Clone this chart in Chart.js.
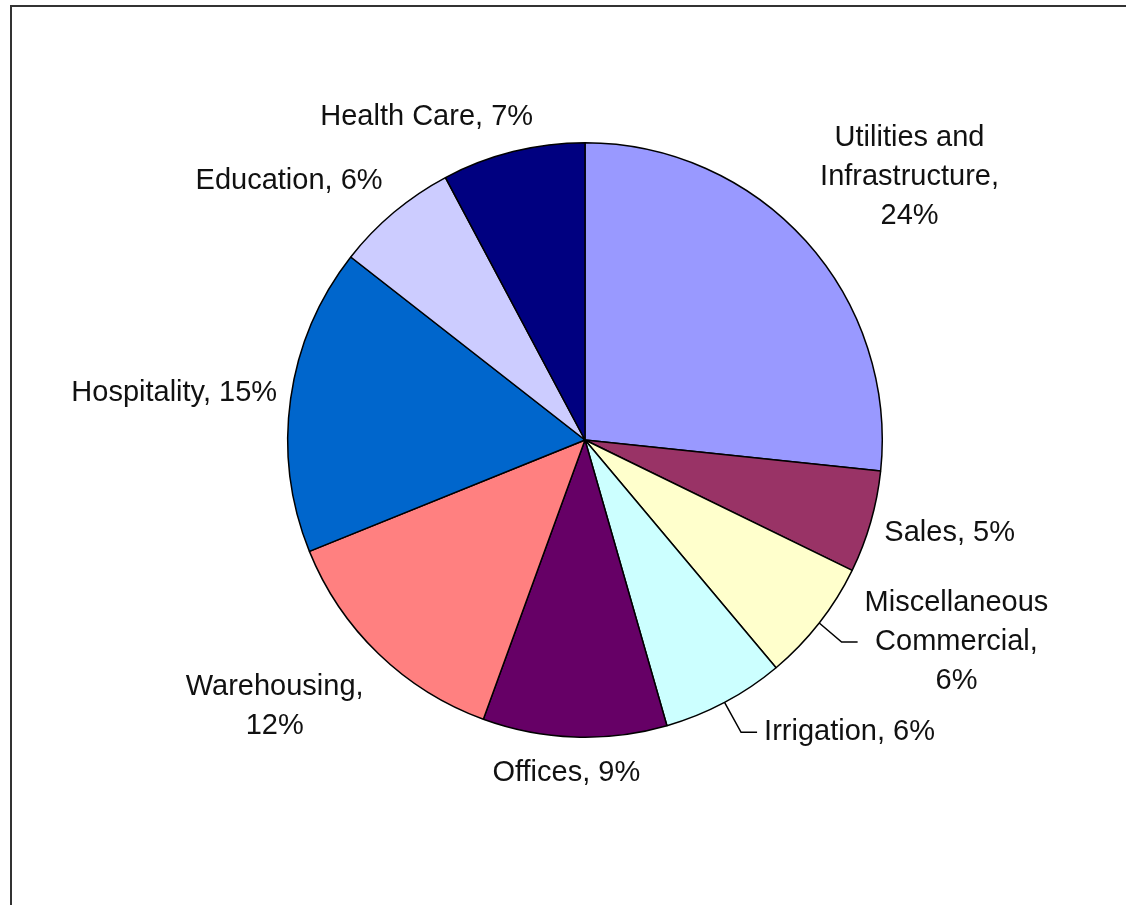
<!DOCTYPE html>
<html>
<head>
<meta charset="utf-8">
<script src="https://cdn.jsdelivr.net/npm/chart.js@4.4.1/dist/chart.umd.min.js"></script>
<style>
  html, body { margin: 0; padding: 0; background: #fff; overflow: hidden; }
  #frame {
    position: absolute; left: 10px; top: 5px; width: 1200px; height: 1000px;
    border-left: 2.5px solid #333; border-top: 2.5px solid #333;
  }
  #pie { position: absolute; left: 0; top: 0; }
</style>
</head>
<body>
<div id="frame"></div>
<canvas id="pie" width="1126" height="905"></canvas>
<script>
// data
const categories = ['Utilities and Infrastructure', 'Sales', 'Miscellaneous Commercial', 'Irrigation',
  'Offices', 'Warehousing', 'Hospitality', 'Education', 'Health Care']
const shares = [24, 5, 6, 6, 9, 12, 15, 6, 7]
const sliceColors = ['#9999FF', '#993366', '#FFFFCC', '#CCFFFF', '#660066', '#FF8080', '#0066CC', '#CCCCFF', '#000080']

// label layout: wrap width, nudge from the automatic spot, leader line
const labelLayout = [
  { wrap: 190, dx: 14, dy: 17 },
  { dx: -1, dy: -12 },
  { wrap: 190, dx: 40, dy: -57, leader: true },
  { dx: 91, dy: -34, leader: true },
  { dx: -7, dy: -1 },
  { wrap: 190, dx: -31, dy: -23 },
  { dx: 2, dy: 11 },
  { dx: -47, dy: 38 },
  { dx: -72, dy: 23 }
]

const FONT = '29px "Liberation Sans", Arial, sans-serif'
const LINE_H = 39
const GAP = 15

const wrapText = (ctx, text, maxWidth) => {
  if (!maxWidth) return [text]
  const words = text.split(' ')
  const lines = []
  let line = ''
  words.forEach(w => {
    const test = line ? line + ' ' + w : w
    if (line && ctx.measureText(test).width > maxWidth) {
      lines.push(line)
      line = w
    } else {
      line = test
    }
  })
  lines.push(line)
  return lines
}

const outsideLabels = {
  id: 'outsideLabels',
  afterDatasetsDraw(chart) {
    const ctx = chart.ctx
    const meta = chart.getDatasetMeta(0)
    ctx.save()
    ctx.font = FONT
    ctx.fillStyle = '#111'
    ctx.textAlign = 'center'
    ctx.textBaseline = 'middle'
    meta.data.forEach((arc, i) => {
      const { x, y, startAngle, endAngle, outerRadius } = arc.getProps(['x', 'y', 'startAngle', 'endAngle', 'outerRadius'], true)
      const layout = labelLayout[i] || {}
      const text = `${chart.data.labels[i]}, ${chart.data.datasets[0].data[i]}%`
      const lines = wrapText(ctx, text, layout.wrap)
      const w = Math.max(...lines.map(l => ctx.measureText(l).width))
      const h = lines.length * LINE_H
      const mid = (startAngle + endAngle) / 2
      const cx0 = Math.cos(mid), cy0 = Math.sin(mid)
      const half = Math.abs(w / 2 * cx0) + Math.abs(h / 2 * cy0)
      const dist = outerRadius + GAP + half
      const cx = x + cx0 * dist + (layout.dx || 0)
      const cy = y + cy0 * dist + (layout.dy || 0)

      lines.forEach((l, k) => {
        ctx.fillText(l, cx, cy - h / 2 + LINE_H / 2 + k * LINE_H)
      })

      if (layout.leader) {
        const ex = x + cx0 * outerRadius
        const ey = y + cy0 * outerRadius
        const endX = cx - w / 2 - 7
        ctx.beginPath()
        ctx.strokeStyle = '#000'
        ctx.lineWidth = 1.5
        ctx.moveTo(ex, ey)
        ctx.lineTo(endX - 16, cy)
        ctx.lineTo(endX, cy)
        ctx.stroke()
      }
    })
    ctx.restore()
  }
}

const chart = new Chart(document.getElementById('pie'), {
  type: 'pie',
  data: {
    labels: categories,
    datasets: [{
      data: shares,
      backgroundColor: sliceColors,
      borderColor: '#000',
      borderWidth: 1.5
    }]
  },
  options: {
    responsive: false,
    animation: false,
    layout: { padding: { left: 287, right: 243, top: 142, bottom: 167 } },
    plugins: {
      legend: { display: false },
      tooltip: { enabled: false }
    }
  },
  plugins: [outsideLabels]
})
</script>
</body>
</html>
